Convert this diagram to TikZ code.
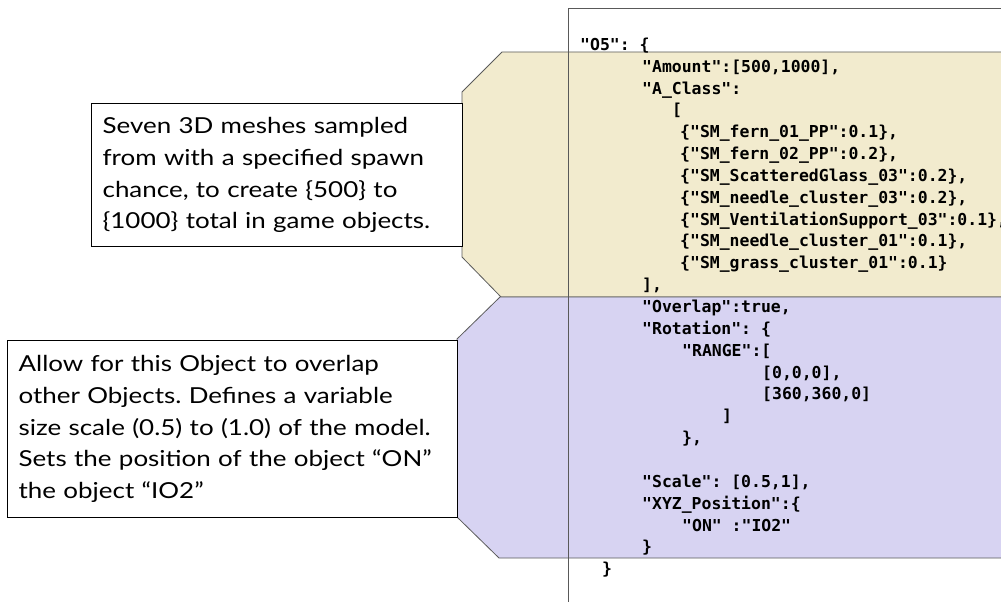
\documentclass[tikz,border=0pt]{standalone}
\usepackage{fontspec}
\setmainfont{Lato}[FakeStretch=1.18]
\newfontfamily\codefont{DejaVu Sans Mono}
\usepackage{xcolor}
\definecolor{classbg}{HTML}{F2EBCE}
\definecolor{placebg}{HTML}{D7D3F2}
\definecolor{edgegray}{HTML}{5A5A5A}
\frenchspacing

\begin{document}
\begin{tikzpicture}[
            x=1pt, y=-1pt,
            note/.style={draw, fill=white, line width=1.2pt, rectangle, anchor=north west,
                align=left, inner xsep=11pt, inner ysep=0pt,
                font=\fontsize{22}{31.7}\selectfont},
            panel/.style={draw=edgegray, line width=0.8pt},
            code/.style={anchor=base west, inner sep=0pt,
                font=\codefont\bfseries\fontsize{16.45}{20}\selectfont},
        ]
            \useasboundingbox (0,0) rectangle (1001,602);
            \clip (0,0) rectangle (1001,602);
            \draw [panel, fill=classbg] (502,52) -- (1010,52) -- (1010,297) -- (501,297)
                -- (462,257) -- (462,92) -- cycle;
            \draw [panel, fill=placebg] (500,297) -- (1010,297) -- (1010,558) -- (499,558)
                -- (457,517) -- (457,339) -- cycle;
            \draw [black!65, line width=0.9pt] (568,602) -- (568,8) -- (1010,8);
            \node [note, minimum width=371pt, minimum height=143pt, text width=349pt] (amount) at (91,103)
                {Seven 3D meshes sampled\\ from with a specified spawn\\ chance, to create \{500\} to\\ \{1000\} total in game objects.};
            \node [note, minimum width=450pt, minimum height=177pt, text width=428pt] (overlap) at (7,340)
                {Allow for this Object to overlap\\ other Objects. Defines a variable\\ size scale (0.5) to (1.0) of the model.\\ Sets the position of the object “ON”\\ the object “IO2”};
            \foreach \k/\x/\txt in {
                0/580/{"O5": \{},
                1/642/{"Amount":[500,1000],},
                2/642/{"A\_Class":},
                3/672/{[},
                4/680/{\{"SM\_fern\_01\_PP":0.1\},},
                5/680/{\{"SM\_fern\_02\_PP":0.2\},},
                6/680/{\{"SM\_ScatteredGlass\_03":0.2\},},
                7/680/{\{"SM\_needle\_cluster\_03":0.2\},},
                8/680/{\{"SM\_VentilationSupport\_03":0.1\},},
                9/680/{\{"SM\_needle\_cluster\_01":0.1\},},
                10/680/{\{"SM\_grass\_cluster\_01":0.1\}},
                11/642/{],},
                12/642/{"Overlap":true,},
                13/642/{"Rotation": \{},
                14/682/{"RANGE":[},
                15/762/{[0,0,0],},
                16/762/{[360,360,0]},
                17/722/{]},
                18/682/{\},},
                20/642/{"Scale": [0.5,1],},
                21/642/{"XYZ\_Position":\{},
                22/682/{"ON" :"IO2"},
                23/642/{\}},
                24/602/{\}}}
                \node [code] (line\k) at (\x, 50.3+21.85*\k) {\txt};
        \end{tikzpicture}
\end{document}
